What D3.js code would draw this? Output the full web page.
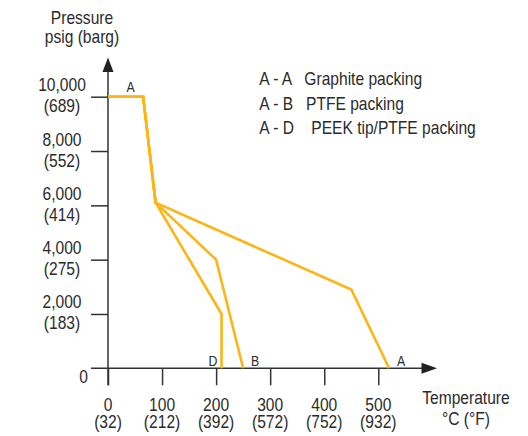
<!DOCTYPE html>
<html>
<head>
<meta charset="utf-8">
<script src="https://cdn.jsdelivr.net/npm/d3@7"></script>
<style>
  body { margin: 0; background: #fff; }
  svg text { font-family: "Liberation Sans", Arial, sans-serif; fill: #2b2b2b; }
</style>
</head>
<body>
<div id="chart"></div>
<script>
// chart data
const xTicks = [0, 100, 200, 300, 400, 500];
const xTickF = ["(32)", "(212)", "(392)", "(572)", "(752)", "(932)"];
const yTicks = [2000, 4000, 6000, 8000, 10000];
const yTickBar = ["(183)", "(275)", "(414)", "(552)", "(689)"];

// temperature (C), pressure (psig)
const graphite = [[0, 10000], [65, 10000], [88, 6100], [450, 2900], [520, 0]];
const ptfe = [[0, 10000], [65, 10000], [88, 6100], [200, 4000], [250, 0]];
const peek = [[0, 10000], [65, 10000], [88, 6100], [210, 2000], [210, 0]];

const legendRows = ["A - A   Graphite packing", "A - B   PTFE packing", "A - D    PEEK tip/PTFE packing"];
const endLabels = ["A", "B", "D"];   // graphite, ptfe, peek ends

let width = 528;
let height = 436;
const orange = "#fdb515";
const ink = "#333";
const squeeze = 0.82;   // no narrow face installed, so squash the regular one

let x = d3.scaleLinear().domain([0, 500]).range([108, 378.3]);
let y = d3.scaleLinear().domain([0, 10000]).range([368.3, 96.7]);

let svg = d3.select("#chart").append("svg")
    .attr("width", width)
    .attr("height", height);

// squash one text/tspan node to narrow width
function narrow(sel) {
    let len = sel.node().getComputedTextLength();
    sel.attr("textLength", len * squeeze).attr("lengthAdjust", "spacingAndGlyphs");
    return sel;
}

// one text element, one tspan per line; lines = [[str, dy from first baseline], ...]
function label(parent, tx, ty, lines, size, anchor) {
    let t = parent.append("text")
        .attr("text-anchor", anchor || "middle")
        .attr("font-size", size)
        .style("white-space", "pre");
    lines.forEach(l => {
        narrow(t.append("tspan").attr("x", tx).attr("y", ty + l[1]).text(l[0]));
    });
    return t;
}

// ticks (no labels, drawn by hand below as two lines)
let gx = svg.append("g")
    .attr("transform", "translate(0," + y(0) + ")")
    .call(d3.axisBottom(x).tickValues(xTicks).tickSize(17).tickFormat(""));
let gy = svg.append("g")
    .attr("transform", "translate(" + x(0) + ",0)")
    .call(d3.axisLeft(y).tickValues(yTicks).tickSize(17).tickFormat(""));
gx.select(".domain").remove();
gy.select(".domain").remove();
svg.selectAll(".tick line").attr("stroke", ink).attr("stroke-width", 1.5);

// axis lines with arrows
svg.append("line")
    .attr("x1", x(0)).attr("x2", x(0))
    .attr("y1", y(0) + 17).attr("y2", 70)
    .attr("stroke", ink).attr("stroke-width", 1.5);
svg.append("path")
    .attr("d", "M" + x(0) + ",57.5 L" + (x(0) - 5.5) + ",72 L" + (x(0) + 5.5) + ",72 Z")
    .attr("fill", "#222");
svg.append("line")
    .attr("x1", x(0) - 17).attr("x2", 423)
    .attr("y1", y(0)).attr("y2", y(0))
    .attr("stroke", ink).attr("stroke-width", 1.5);
svg.append("path")
    .attr("d", "M437," + y(0) + " L421.5," + (y(0) - 5.5) + " L421.5," + (y(0) + 5.5) + " Z")
    .attr("fill", "#222");

// x tick labels
let xl = svg.append("g");
xTicks.forEach((d, i) => {
    label(xl, x(d), y(0) + 43, [[String(d), 0], [xTickF[i], 17]], 19);
});

// y tick labels
let yl = svg.append("g");
yTicks.forEach((d, i) => {
    label(yl, 62, y(d) - 5.5, [[d3.format(",")(d), 0], [yTickBar[i], 21]], 19);
});
label(yl, 88, y(0) + 15, [["0", 0]], 19, "end");

// axis titles
label(svg, 82, 24, [["Pressure", 0], ["psig (barg)", 18.5]], 19);
label(svg, 466, 404, [["Temperature", 0], ["°C (°F)", 21]], 19);

// curves
let line = d3.line().x(d => x(d[0])).y(d => y(d[1]));
svg.append("g").selectAll("path")
    .data([peek, ptfe, graphite])
    .enter()
    .append("path")
    .attr("d", line)
    .attr("fill", "none")
    .attr("stroke", orange)
    .attr("stroke-width", 2.6)
    .attr("stroke-linejoin", "miter");

// end point letters
let ends = [graphite, ptfe, peek].map(s => s[s.length - 1]);
let el = svg.append("g");
label(el, x(42), y(10000) - 5, [["A", 0]], 15);
ends.forEach((d, i) => {
    let dx = i < 2 ? 12 : -8.5;
    label(el, x(d[0]) + dx, y(d[1]) - 2.5, [[endLabels[i], 0]], 15);
});

// legend
let lg = svg.append("g");
legendRows.forEach((d, i) => label(lg, 259.3, 85 + i * 24.7, [[d, 0]], 19, "start"));
</script>
</body>
</html>
